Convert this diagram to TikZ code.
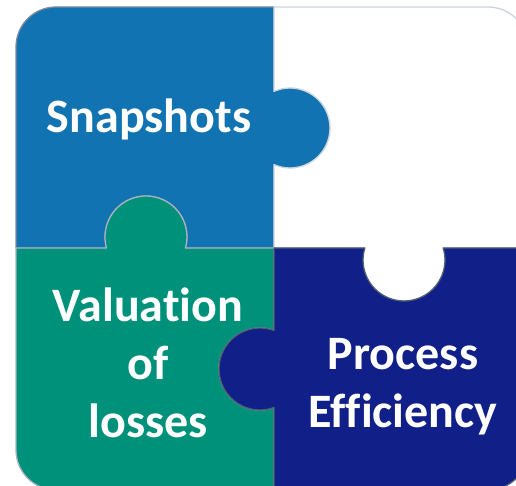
\documentclass[tikz,border=0pt]{standalone}
\usepackage{fontspec}
\setmainfont{Carlito}[Ligatures=NoCommon]
\usetikzlibrary{positioning}

\definecolor{snapblue}{RGB}{17,115,177}
\definecolor{valgreen}{RGB}{0,145,123}
\definecolor{procnavy}{RGB}{17,31,136}
\definecolor{edgegray}{RGB}{122,138,154}
\definecolor{edgelight}{RGB}{201,213,222}
\definecolor{edgegreen}{RGB}{166,180,194}
\definecolor{edgenavy}{RGB}{78,94,112}

\begin{document}
\begin{tikzpicture}[x=1pt,y=1pt,
	piece/.style={line width=1.3pt,line join=round},
	word/.style={text=white,font=\bfseries\fontsize{48}{58}\selectfont,align=center,inner sep=0pt,anchor=base}]
		\clip (0,0) rectangle (516,486);
		% blue piece, top left
		\draw[piece,fill=snapblue,draw=edgegray] (16,238) -- (16,439) arc[start angle=180,end angle=90,radius=40pt] -- (274,479)
			-- (274,394.66) arc[start angle=113.58,end angle=-113.58,radius=40pt] -- (274,238)
			-- (185.5,238) arc[start angle=-15.56,end angle=195.56,radius=41pt] -- cycle;
		% white piece, top right
		\draw[piece,fill=white,draw=edgelight] (274,479) -- (488,479) arc[start angle=90,end angle=0,radius=40pt] -- (528,238)
			-- (443.2,238) arc[start angle=17.02,end angle=-197.02,radius=41pt] -- (274,238)
			-- (274,321.34) arc[start angle=-113.58,end angle=113.58,radius=40pt] -- cycle;
		% green piece, bottom left
		\draw[piece,fill=valgreen,draw=edgegreen] (16,238) -- (106.5,238) arc[start angle=195.56,end angle=-15.56,radius=41pt] -- (274,238)
			-- (274,155.54) arc[start angle=70.03,end angle=289.97,radius=41pt] -- (274,-4)
			-- (56,-4) arc[start angle=270,end angle=180,radius=40pt] -- cycle;
		% navy piece, bottom right
		\draw[piece,fill=procnavy,draw=edgenavy] (274,238) -- (364.8,238) arc[start angle=162.98,end angle=377.02,radius=41pt] -- (528,238)
			-- (528,36) arc[start angle=0,end angle=-90,radius=40pt] -- (274,-4)
			-- (274,78.46) arc[start angle=-70.03,end angle=-289.97,radius=41pt] -- cycle;

		% base anchor sits on the last line
		\node[word] (snap) at (149,353) {Snapshots};
		\node[word] (val) at (148,48) {Valuation\\of\\losses};
		\node[word] (proc) at (403,58) {Process\\Efficiency};
\end{tikzpicture}
\end{document}
